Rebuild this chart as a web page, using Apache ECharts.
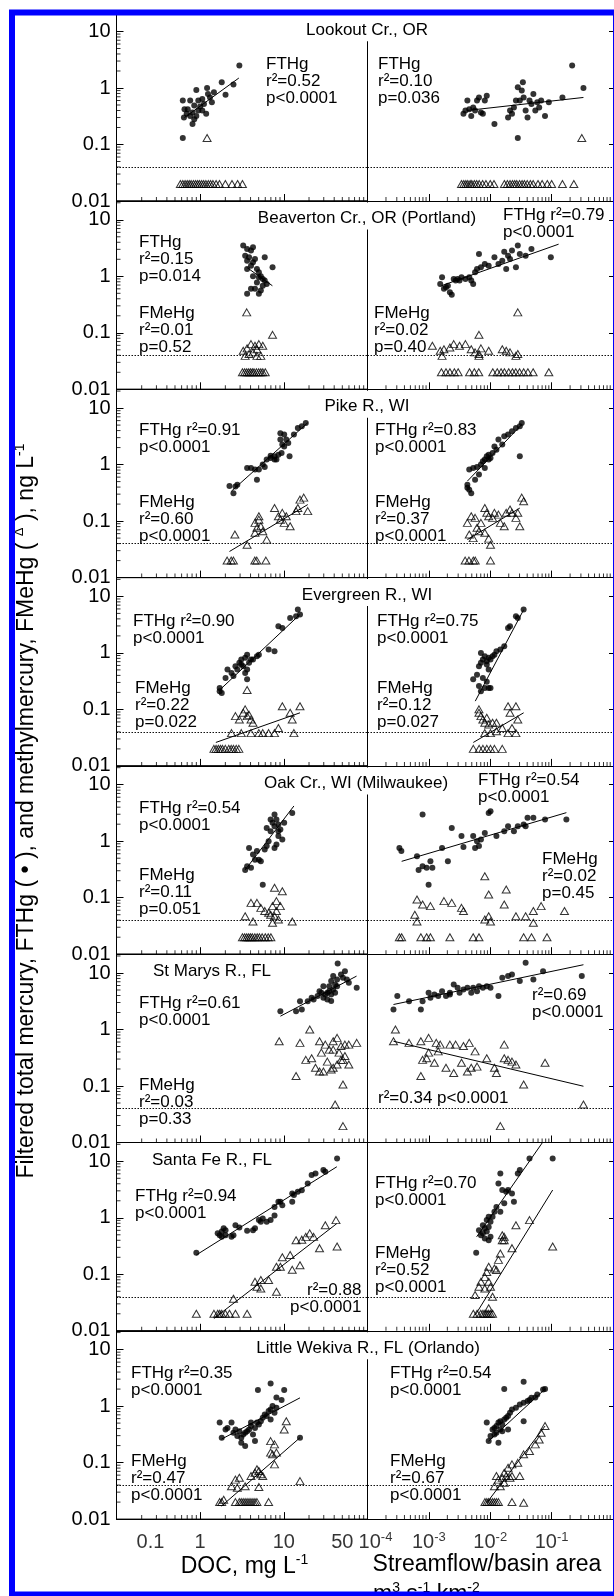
<!DOCTYPE html>
<html><head><meta charset="utf-8">
<script src="https://cdn.jsdelivr.net/npm/echarts@6/dist/echarts.min.js"></script>
<style>html,body{margin:0;padding:0;background:#fff}#chart{width:614px;height:1596px}</style>
</head><body><div id="chart"></div>
<script>
const FONT = '"Liberation Sans", Arial, Helvetica, sans-serif';

// ---- axis ranges & tick labels ----
const X_LEFT_MIN = 0.1, X_LEFT_MAX = 100, X_RIGHT_MIN = 1e-4, X_RIGHT_MAX = 1;
const Y_MIN = 0.01, Y_MAX = 21.5;
const DETECTION_LIMIT = 0.04;     // dotted line
const NON_DETECT_VALUE = 0.02;    // plotted value of non-detect FMeHg
const yTickLabels = ['0.01', '0.1', '1', '10'];
const xLeftTickValues = [0.1, 1, 10, 50];
const xLeftTickLabels = ['{b|0.1}', '{b|1}', '{b|10}', '{b|50}'];
const xRightTickValues = [1e-4, 1e-3, 1e-2, 1e-1];
const xRightTickLabels = ['{b|10}{s|-4}', '{b|10}{s|-3}', '{b|10}{s|-2}', '{b|10}{s|-1}'];
const xLeftMinor = [0.2,0.3,0.4,0.5,0.6,0.7,0.8,0.9,2,3,4,5,6,7,8,9,20,30,40,50,60,70,80,90];
const xRightMinor = [2e-4,3e-4,4e-4,5e-4,6e-4,7e-4,8e-4,9e-4,0.002,0.003,0.004,0.005,0.006,0.007,0.008,0.009,0.02,0.03,0.04,0.05,0.06,0.07,0.08,0.09,0.2,0.3,0.4,0.5,0.6,0.7,0.8,0.9];
const yMinor = [0.02,0.03,0.04,0.05,0.06,0.07,0.08,0.09,0.2,0.3,0.4,0.5,0.6,0.7,0.8,0.9,2,3,4,5,6,7,8,9,20];

const siteNames = ['Lookout Cr., OR', 'Beaverton Cr., OR (Portland)', 'Pike R., WI', 'Evergreen R., WI',
  'Oak Cr., WI (Milwaukee)', 'St Marys R., FL', 'Santa Fe R., FL', 'Little Wekiva R., FL (Orlando)'];

// ---- data: [x, value] ; ND arrays hold x of non-detects ----
const lookoutDocHg = [[0.62,0.13],[0.62,0.60],[0.64,0.30],[0.71,0.42],[0.76,0.60],[0.81,0.37],[0.85,0.28],[0.81,0.23],[0.90,0.92],[0.95,0.40],[1.0,0.47],[1.06,0.64],[1.11,0.52],[1.18,0.35],[1.21,1.0],[1.31,0.68],[1.38,0.56],[1.46,0.84],[0.90,0.32],[1.06,0.40],[0.69,0.35],[1.81,1.26],[2.01,0.76],[2.50,1.15],[2.94,2.5],[1.24,0.78],[0.85,0.49],[0.65,0.42],[0.76,0.32],[0.95,0.60]];
const lookoutDocMeHg = [[1.21,0.13]];
const lookoutDocND = [0.58,0.62,0.66,0.70,0.74,0.78,0.83,0.88,0.93,0.98,1.04,1.1,1.17,1.25,1.33,1.42,1.55,1.7,2.0,2.4,2.8,3.2];
const lookoutDocHgFit = [[0.65,0.30],[2.9,1.5]];
const lookoutFlowHg = [[0.00366,0.35],[0.00394,0.40],[0.00424,0.60],[0.00455,0.42],[0.0049,0.32],[0.00527,0.45],[0.00566,0.40],[0.00609,0.60],[0.00655,0.68],[0.00705,0.37],[0.00758,0.35],[0.00815,0.60],[0.00877,0.73],[0.0117,0.23],[0.0195,0.30],[0.021,0.40],[0.0226,0.35],[0.0243,0.45],[0.0262,0.60],[0.0281,0.13],[0.0303,0.60],[0.0326,0.90],[0.034,1.26],[0.035,0.68],[0.0377,0.40],[0.0405,0.30],[0.0436,0.60],[0.0469,0.52],[0.0504,0.78],[0.0542,0.40],[0.0583,0.56],[0.0627,0.45],[0.0675,0.60],[0.078,0.32],[0.09,0.56],[0.15,0.68],[0.216,2.5],[0.33,1.0],[0.0281,1.03]];
const lookoutFlowMeHg = [[0.31,0.13]];
const lookoutFlowND = [0.0034,0.0037,0.004,0.0043,0.0047,0.005,0.0055,0.006,0.0066,0.0075,0.0085,0.01,0.0115,0.017,0.019,0.021,0.023,0.025,0.027,0.03,0.033,0.036,0.04,0.045,0.05,0.06,0.07,0.085,0.1,0.15,0.23];
const lookoutFlowHgFit = [[0.0042,0.40],[0.33,0.68]];

const beavertonDocHg = [[3.27,3.5],[3.64,3.05],[4.05,2.85],[4.28,3.26],[3.45,2.32],[3.84,2.17],[3.64,1.89],[4.52,2.03],[5.91,2.17],[4.05,1.54],[4.77,1.35],[3.64,1.35],[5.31,1.0],[4.28,1.0],[5.03,1.18],[5.6,0.9],[7.33,1.44],[4.77,0.78],[5.6,0.68],[4.05,0.60],[3.64,0.49],[5.03,0.49],[5.31,0.56],[4.52,0.60],[5.91,0.84],[6.24,0.73],[5.03,0.96],[4.28,1.77]];
const beavertonDocMeHg = [[3.6,0.23],[7.33,0.092],[3.27,0.048],[3.64,0.053],[4.05,0.063],[4.52,0.059],[5.03,0.063],[5.6,0.059],[4.28,0.045],[4.77,0.039],[5.31,0.039],[3.45,0.039],[3.84,0.042],[4.77,0.051]];
const beavertonDocND = [3.2,3.4,3.6,3.8,4.0,4.2,4.4,4.7,5.0,5.3,5.6,6.0];
const beavertonDocHgFit = [[3.6,1.44],[7.3,0.68]];
const beavertonFlowHg = [[0.00153,0.73],[0.00164,0.96],[0.0019,0.64],[0.0022,0.52],[0.00236,0.47],[0.00254,0.9],[0.00273,0.84],[0.00294,0.9],[0.00316,0.84],[0.0034,0.96],[0.00394,0.9],[0.00455,0.96],[0.0049,0.84],[0.00527,0.73],[0.00566,1.18],[0.00609,1.35],[0.00655,2.49],[0.00705,1.44],[0.00815,1.65],[0.00943,1.54],[0.0117,2.17],[0.0136,1.65],[0.0157,1.89],[0.0169,2.73],[0.0182,1.35],[0.0195,2.32],[0.021,2.03],[0.0226,2.85],[0.0262,1.44],[0.0281,3.5],[0.0303,2.49],[0.0377,2.32],[0.0469,3.05],[0.0971,2.17],[0.00176,0.6],[0.00204,0.68]];
const beavertonFlowMeHg = [[0.0281,0.23],[0.00655,0.092],[0.00114,0.059],[0.00153,0.048],[0.00176,0.051],[0.0022,0.055],[0.00254,0.063],[0.00316,0.059],[0.00394,0.063],[0.0049,0.051],[0.00566,0.045],[0.00655,0.042],[0.00705,0.053],[0.00943,0.048],[0.0157,0.051],[0.0182,0.048],[0.021,0.045],[0.0262,0.039],[0.0281,0.042],[0.00164,0.039],[0.00655,0.039]];
const beavertonFlowND = [0.0016,0.0019,0.0022,0.0026,0.003,0.0046,0.0055,0.0065,0.011,0.013,0.015,0.017,0.02,0.023,0.026,0.03,0.035,0.041,0.05,0.09];
const beavertonFlowHgFit = [[0.0016,0.68],[0.13,3.7]];

const pikeDocHg = [[2.24,0.42],[2.5,0.31],[2.64,0.41],[2.78,0.44],[3.64,0.87],[4.52,0.82],[4.77,0.54],[5.03,0.82],[5.6,1.0],[5.91,0.91],[6.24,1.23],[6.95,1.31],[7.74,1.40],[8.16,1.23],[8.61,1.5],[9.4,1.61],[9.59,2.26],[9.09,3.6],[10.1,3.4],[10.7,2.77],[11.3,2.42],[11.7,1.40],[13.2,3.4],[14.7,4.45],[16.4,4.77],[18.3,5.47],[9.09,2.77],[10.1,2.1],[7.74,1.23],[6.95,1.44],[4.05,0.87]];
const pikeDocMeHg = [[2.6,0.058],[3.64,0.038],[5.03,0.106],[4.77,0.076],[5.31,0.081],[4.52,0.062],[5.6,0.066],[6.24,0.047],[7.74,0.17],[9.09,0.106],[9.59,0.14],[10.1,0.093],[10.7,0.122],[11.9,0.081],[14.0,0.15],[15.6,0.24],[17.3,0.26],[19.3,0.15],[14.7,0.17],[4.52,0.093],[5.03,0.122],[8.61,0.122]];
const pikeDocND = [2.1,2.35,2.5,4.5,4.75,6.1];
const pikeDocHgFit = [[2.37,0.34],[19.3,5.5]];
const pikeDocMeHgFit = [[2.24,0.029],[19.3,0.196]];
const pikeFlowHg = [[0.00424,0.44],[0.00455,0.36],[0.0049,0.31],[0.00455,0.82],[0.00527,0.87],[0.00609,0.91],[0.00705,1.0],[0.00758,1.15],[0.00815,1.23],[0.00877,1.40],[0.00943,1.5],[0.0101,1.31],[0.0109,1.61],[0.0126,1.84],[0.0136,2.77],[0.0169,3.17],[0.0195,3.4],[0.0226,3.9],[0.0262,4.45],[0.0303,4.77],[0.0326,5.47],[0.0303,1.40],[0.00566,0.54],[0.00655,0.67],[0.00815,0.87],[0.00943,1.23],[0.0117,2.1],[0.0157,2.26],[0.00424,0.39]];
const pikeFlowMeHg = [[0.00424,0.093],[0.0049,0.122],[0.00566,0.114],[0.00609,0.076],[0.00655,0.066],[0.00705,0.093],[0.00815,0.17],[0.00877,0.14],[0.00943,0.122],[0.0109,0.114],[0.0117,0.14],[0.0136,0.13],[0.0146,0.093],[0.0169,0.081],[0.0182,0.14],[0.021,0.16],[0.0226,0.14],[0.0262,0.114],[0.0281,0.14],[0.0303,0.081],[0.0326,0.26],[0.035,0.225],[0.00815,0.062],[0.00943,0.049],[0.0101,0.038],[0.00455,0.058],[0.00527,0.05]];
const pikeFlowND = [0.0039,0.0045,0.0053,0.0057,0.0101];
const pikeFlowHgFit = [[0.00424,0.51],[0.0326,5.1]];
const pikeFlowMeHgFit = [[0.00424,0.047],[0.0303,0.17]];

const evergreenDocHg = [[1.71,0.21],[1.81,0.196],[1.71,0.24],[2.01,0.36],[2.12,0.51],[2.37,0.44],[2.5,0.39],[2.64,0.58],[2.78,0.51],[2.94,0.67],[3.1,0.76],[3.27,0.58],[3.45,0.44],[3.64,0.51],[3.84,0.67],[4.05,0.76],[3.64,0.93],[3.45,0.82],[4.28,0.76],[4.77,0.87],[5.03,0.93],[6.58,1.15],[7.74,1.07],[8.61,2.97],[9.59,2.77],[11.9,4.16],[14.0,4.45],[14.7,5.85],[15.6,4.77],[3.64,0.34],[3.1,0.62]];
const evergreenDocMeHg = [[3.64,0.22],[3.27,0.087],[3.45,0.1],[3.64,0.076],[4.05,0.066],[2.94,0.066],[2.64,0.076],[4.28,0.058],[2.37,0.038],[3.1,0.038],[4.05,0.038],[5.03,0.038],[5.6,0.038],[6.58,0.038],[7.74,0.038],[8.61,0.047],[9.59,0.114],[11.9,0.087],[12.6,0.066],[13.2,0.038],[15.6,0.114],[3.84,0.08]];
const evergreenDocND = [1.46,1.55,1.65,1.75,1.85,2.0,2.2,2.35,2.5,2.7,2.9];
const evergreenDocHgFit = [[1.71,0.22],[15.6,4.8]];
const evergreenDocMeHgFit = [[1.54,0.026],[15.6,0.087]];
const evergreenFlowHg = [[0.00527,0.34],[0.00609,0.41],[0.00655,0.26],[0.00705,0.21],[0.00758,0.36],[0.00815,0.24],[0.00877,0.31],[0.00943,0.24],[0.0101,0.24],[0.00705,0.67],[0.00655,0.58],[0.00758,0.76],[0.00815,0.87],[0.00877,0.71],[0.00943,0.82],[0.0101,0.76],[0.0109,0.87],[0.0117,0.93],[0.0126,1.07],[0.0146,1.15],[0.0169,1.31],[0.0195,2.77],[0.021,2.97],[0.0262,4.45],[0.0281,4.16],[0.035,5.85],[0.00705,1.0],[0.00877,0.62],[0.00943,0.51]];
const evergreenFlowMeHg = [[0.00655,0.1],[0.00705,0.076],[0.00758,0.066],[0.00815,0.058],[0.00877,0.071],[0.00943,0.054],[0.0109,0.058],[0.0126,0.058],[0.0195,0.114],[0.021,0.087],[0.0262,0.114],[0.0281,0.066],[0.0101,0.038],[0.0126,0.041],[0.0157,0.047],[0.0195,0.038],[0.0226,0.047],[0.0262,0.038],[0.00815,0.038],[0.00655,0.087]];
const evergreenFlowND = [0.0053,0.0066,0.0076,0.0088,0.0101,0.0117,0.0157];
const evergreenFlowHgFit = [[0.0057,0.14],[0.035,5.8]];
const evergreenFlowMeHgFit = [[0.0053,0.026],[0.035,0.087]];

const oakDocHg = [[3.45,0.31],[3.64,0.36],[3.84,0.76],[4.28,0.58],[4.52,0.47],[4.77,0.67],[5.03,0.47],[5.31,0.44],[5.6,0.17],[5.91,0.71],[6.24,0.82],[6.58,1.0],[6.95,1.5],[7.33,2.11],[7.74,2.97],[8.16,2.42],[8.61,1.97],[9.09,1.61],[7.74,0.76],[8.16,0.87],[8.61,1.23],[9.59,1.07],[10.1,2.11],[12.6,3.17],[6.24,1.72],[6.95,2.42],[7.74,1.84],[8.61,1.5],[4.05,0.34]];
const oakDocMeHg = [[7.74,0.15],[9.59,0.13],[4.05,0.081],[4.77,0.081],[5.31,0.066],[5.91,0.058],[6.58,0.054],[7.33,0.071],[8.16,0.087],[9.09,0.071],[6.95,0.05],[7.74,0.047],[8.61,0.041],[3.45,0.047],[4.28,0.038],[7.33,0.036],[12.6,0.038],[8.16,0.058]];
const oakDocND = [3.2,3.4,3.6,3.8,4.0,4.2,4.5,4.8,5.1,5.5,6.0,6.5,7.0];
const oakDocHgFit = [[3.45,0.31],[13.2,4.2]];
const oakFlowHg = [[0.000331,0.76],[0.000356,0.67],[0.00064,0.54],[0.00068,0.31],[0.00079,0.36],[0.00092,0.34],[0.00099,0.17],[0.00106,0.44],[0.00114,0.34],[0.00079,2.97],[0.00164,0.76],[0.00204,0.44],[0.00236,1.72],[0.0034,1.23],[0.00366,0.79],[0.00527,1.23],[0.00566,0.76],[0.00609,1.0],[0.00655,0.82],[0.00705,1.07],[0.00815,1.4],[0.00943,3.17],[0.0101,3.4],[0.0126,1.23],[0.0169,1.5],[0.0195,1.84],[0.0243,1.5],[0.0281,1.84],[0.035,1.97],[0.0377,1.84],[0.0405,2.59],[0.0504,2.59],[0.0781,2.42],[0.174,2.42]];
const oakFlowMeHg = [[0.00064,0.093],[0.00079,0.076],[0.00106,0.071],[0.00176,0.087],[0.00236,0.081],[0.0034,0.066],[0.00366,0.058],[0.00815,0.24],[0.00943,0.114],[0.0182,0.14],[0.0169,0.076],[0.0262,0.047],[0.0377,0.047],[0.0504,0.058],[0.0675,0.071],[0.162,0.058],[0.00059,0.05],[0.00064,0.038],[0.00943,0.047],[0.0101,0.038],[0.00815,0.041],[0.0504,0.036]];
const oakFlowND = [0.00033,0.00036,0.00074,0.00092,0.00106,0.0022,0.00527,0.00655,0.035,0.047,0.084];
const oakFlowHgFit = [[0.00036,0.44],[0.174,3.2]];

const stmarysDocHg = [[9.09,2.11],[14.0,2.11],[15.6,3.17],[16.4,2.26],[19.3,3.17],[21.5,3.64],[22.7,3.4],[25.3,3.9],[28.1,4.45],[29.7,3.64],[31.3,4.16],[33.1,4.45],[34.9,5.85],[36.8,7.2],[38.9,5.1],[41.0,6.25],[43.3,7.7],[44,14.7],[48.2,9.4],[50.9,8.2],[53.7,10.7],[56.7,7.7],[59.8,6.7],[74.3,5.5],[36.8,4.16],[33.1,3.4],[29.7,5.85],[26.7,4.77],[41,4.45],[43.3,5.85],[34.9,4.77],[38.9,8.8],[36.8,3.2]];
const stmarysDocMeHg = [[8.8,0.62],[15.6,0.58],[20.4,1.0],[26.7,0.62],[31.3,0.54],[34.9,0.44],[38.9,0.62],[43.3,0.71],[48.2,0.51],[53.7,0.54],[59.8,0.54],[74.3,0.58],[14.0,0.15],[18.3,0.29],[21.5,0.31],[23.9,0.21],[26.7,0.18],[29.7,0.18],[36.8,0.196],[38.9,0.21],[43.3,0.24],[48.2,0.29],[53.7,0.34],[59.8,0.24],[50.9,0.106],[41.0,0.047],[50.9,0.0195],[28.1,0.39],[33.1,0.27],[38.9,0.44],[45.7,0.39],[50.9,0.29]];
const stmarysDocND = [];
const stmarysDocHgFit = [[9.1,1.72],[74,8.8]];
const stmarysFlowHg = [[0.000265,2.26],[0.000306,3.9],[0.000475,3.17],[0.00074,2.26],[0.00079,3.17],[0.00099,4.45],[0.00106,3.64],[0.00123,4.16],[0.00142,3.9],[0.00164,4.77],[0.0019,3.9],[0.0022,4.45],[0.00254,6.25],[0.00316,4.45],[0.00366,5.1],[0.00424,5.5],[0.00527,5.5],[0.00655,5.85],[0.00758,5.5],[0.00877,5.85],[0.0101,5.5],[0.0136,3.9],[0.0157,8.2],[0.0195,8.8],[0.0226,9.4],[0.0303,7.2],[0.0377,15.1],[0.0504,7.7],[0.0726,10.7],[0.31,8.8],[0.0022,4.16],[0.00294,5.5],[0.0049,4.45],[0.00609,4.77]];
const stmarysFlowMeHg = [[0.000285,1.0],[0.000265,0.62],[0.000475,0.58],[0.00074,0.62],[0.00099,0.71],[0.00132,0.58],[0.00153,0.54],[0.0022,0.54],[0.00273,0.54],[0.00366,0.51],[0.00455,0.58],[0.00566,0.41],[0.00079,0.29],[0.00092,0.31],[0.00099,0.39],[0.00142,0.41],[0.00123,0.257],[0.0019,0.21],[0.00254,0.17],[0.0034,0.257],[0.00424,0.18],[0.0049,0.21],[0.00609,0.22],[0.00877,0.31],[0.0117,0.21],[0.0126,0.17],[0.0169,0.54],[0.0169,0.31],[0.0195,0.29],[0.0226,0.27],[0.0262,0.24],[0.00074,0.15],[0.035,0.106],[0.0781,0.257],[0.33,0.047],[0.0146,0.0195]];
const stmarysFlowND = [];
const stmarysFlowHgFit = [[0.000265,2.77],[0.33,14]];
const stmarysFlowMeHgFit = [[0.000265,0.62],[0.33,0.099]];

const santafeDocHg = [[0.9,0.24],[1.62,0.53],[1.71,0.49],[1.81,0.57],[1.91,0.65],[2.01,0.6],[1.81,0.46],[2.37,0.46],[2.5,0.49],[2.64,0.74],[3.64,0.59],[4.28,0.6],[4.52,0.65],[5.03,0.91],[5.31,0.85],[5.6,0.97],[6.24,0.85],[7.74,1.1],[7.74,1.56],[8.61,1.92],[9.09,1.92],[12.6,1.92],[12.6,2.7],[13.2,2.52],[14.7,2.88],[16.4,3.08],[19.3,4.05],[21.5,5.7],[23.9,6.1],[29.7,7.0],[31.3,6.5],[43.3,11.2],[2.01,0.49],[2.94,0.67],[6.95,0.91],[9.59,1.67]];
const santafeDocMeHg = [[42,0.91],[43.3,0.31],[31.3,0.74],[26.7,0.29],[22.7,0.46],[20.4,0.53],[18.3,0.46],[16.4,0.41],[14.0,0.4],[11.9,0.22],[9.59,0.2],[12.6,0.12],[15.6,0.145],[9.09,0.136],[8.16,0.136],[6.58,0.079],[5.31,0.079],[4.77,0.06],[4.52,0.074],[5.31,0.056],[8.16,0.049],[2.5,0.037]];
const santafeDocND = [0.9,1.46,1.62,1.71,1.81,2.0,2.24,2.64,3.64];
const santafeDocHgFit = [[0.9,0.22],[43,8.0]];
const santafeDocMeHgFit = [[1.46,0.0165],[43,0.79]];
const santafeFlowHg = [[0.0059,0.24],[0.00655,0.6],[0.00705,0.49],[0.00758,0.53],[0.00815,0.65],[0.00877,0.57],[0.00943,0.69],[0.0101,0.85],[0.0109,1.04],[0.0117,1.28],[0.0126,1.56],[0.0146,1.28],[0.0157,3.1],[0.0169,1.8],[0.0182,2.88],[0.0195,3.1],[0.0226,2.7],[0.0243,1.92],[0.0281,6.1],[0.0303,7.0],[0.0436,11.2],[0.104,11.2],[0.00815,0.43],[0.00943,0.4],[0.0101,0.46],[0.00758,0.74],[0.00877,0.91],[0.00943,1.04],[0.0146,6.1],[0.0136,4.05]];
const santafeFlowMeHg = [[0.00566,0.043],[0.00655,0.06],[0.00705,0.074],[0.00815,0.09],[0.00877,0.11],[0.00943,0.136],[0.0101,0.06],[0.0109,0.04],[0.0117,0.127],[0.0126,0.119],[0.0136,0.18],[0.0146,0.234],[0.0157,0.4],[0.0169,0.46],[0.0226,0.29],[0.0262,0.74],[0.0436,0.91],[0.104,0.31],[0.00943,0.074],[0.00815,0.056],[0.00943,0.025],[0.0157,0.49],[0.0169,0.4]];
const santafeFlowND = [0.0053,0.0061,0.007,0.0076,0.0082,0.0088,0.0094,0.0101,0.0109];
const santafeFlowHgFit = [[0.006,0.46],[0.071,21.5]];
const santafeFlowMeHgFit = [[0.0057,0.019],[0.104,3.1]];

const wekivaDocHg = [[6.95,2.52],[4.9,1.92],[10.1,1.92],[8.16,1.42],[9.4,1.28],[1.71,0.51],[1.81,0.276],[2.12,0.41],[2.37,0.51],[2.5,0.337],[2.64,0.386],[2.78,0.295],[2.94,0.36],[3.1,0.276],[3.27,0.315],[3.45,0.337],[3.64,0.36],[3.84,0.386],[4.05,0.443],[4.28,0.315],[4.52,0.41],[4.77,0.51],[5.03,0.47],[5.31,0.54],[5.6,0.62],[5.91,0.71],[6.24,0.665],[6.58,0.82],[6.95,0.87],[7.33,1.0],[7.74,0.76],[8.16,0.93],[3.45,0.196],[3.1,0.224],[6.95,0.58],[4.05,0.51],[4.52,0.24],[15.6,0.276],[2.01,0.386]];
const wekivaDocMeHg = [[10.7,0.54],[10.1,0.386],[6.95,0.24],[7.74,0.21],[8.16,0.15],[6.95,0.15],[7.33,0.14],[7.74,0.093],[5.03,0.071],[4.52,0.066],[5.31,0.062],[5.6,0.058],[4.77,0.076],[4.05,0.058],[2.94,0.054],[2.64,0.05],[2.37,0.038],[2.78,0.036],[3.45,0.038],[5.03,0.037],[15.6,0.047],[1.91,0.022]];
const wekivaDocND = [1.71,1.81,2.64,2.94,3.1,3.27,3.45,3.64,3.84,4.05,4.28,4.52,4.77,6.58];
const wekivaDocHgFit = [[1.8,0.26],[15.6,1.4]];
const wekivaDocMeHgFit = [[1.8,0.017],[15.6,0.276]];
const wekivaFlowHg = [[0.0169,2.0],[0.035,2.7],[0.0781,2.0],[0.0542,1.42],[0.0436,1.28],[0.00877,0.51],[0.00943,0.24],[0.0101,0.295],[0.0109,0.386],[0.0117,0.41],[0.0126,0.443],[0.0136,0.51],[0.0146,0.386],[0.0157,0.47],[0.0169,0.58],[0.0182,0.62],[0.0195,0.665],[0.021,0.76],[0.0226,0.87],[0.0262,0.93],[0.0303,1.07],[0.035,1.15],[0.0405,1.23],[0.0469,1.4],[0.0583,1.6],[0.0726,1.97],[0.0117,0.315],[0.0136,0.224],[0.0195,0.386],[0.0146,0.54],[0.0126,0.337],[0.0157,0.36],[0.035,0.54]];
const wekivaFlowMeHg = [[0.0781,0.443],[0.0675,0.337],[0.0627,0.257],[0.0542,0.21],[0.0436,0.16],[0.035,0.14],[0.0281,0.099],[0.0226,0.093],[0.0195,0.081],[0.0182,0.058],[0.0169,0.066],[0.0157,0.054],[0.0136,0.05],[0.0126,0.058],[0.0146,0.038],[0.0117,0.038],[0.021,0.054],[0.0226,0.058],[0.0169,0.044],[0.0303,0.058],[0.035,0.0195]];
const wekivaFlowND = [0.0082,0.0088,0.0094,0.0101,0.0109,0.0117,0.0126,0.0136,0.0226];
const wekivaFlowHgFit = [[0.0094,0.24],[0.078,2.0]];
const wekivaFlowMeHgFit = [[0.0088,0.0195],[0.078,0.443]];

// ---- panel assembly ----
const panels = [
  {row:0, side:0, hg:lookoutDocHg, mehg:lookoutDocMeHg, nd:lookoutDocND, fits:[lookoutDocHgFit]},
  {row:0, side:1, hg:lookoutFlowHg, mehg:lookoutFlowMeHg, nd:lookoutFlowND, fits:[lookoutFlowHgFit]},
  {row:1, side:0, hg:beavertonDocHg, mehg:beavertonDocMeHg, nd:beavertonDocND, fits:[beavertonDocHgFit]},
  {row:1, side:1, hg:beavertonFlowHg, mehg:beavertonFlowMeHg, nd:beavertonFlowND, fits:[beavertonFlowHgFit]},
  {row:2, side:0, hg:pikeDocHg, mehg:pikeDocMeHg, nd:pikeDocND, fits:[pikeDocHgFit, pikeDocMeHgFit]},
  {row:2, side:1, hg:pikeFlowHg, mehg:pikeFlowMeHg, nd:pikeFlowND, fits:[pikeFlowHgFit, pikeFlowMeHgFit]},
  {row:3, side:0, hg:evergreenDocHg, mehg:evergreenDocMeHg, nd:evergreenDocND, fits:[evergreenDocHgFit, evergreenDocMeHgFit]},
  {row:3, side:1, hg:evergreenFlowHg, mehg:evergreenFlowMeHg, nd:evergreenFlowND, fits:[evergreenFlowHgFit, evergreenFlowMeHgFit]},
  {row:4, side:0, hg:oakDocHg, mehg:oakDocMeHg, nd:oakDocND, fits:[oakDocHgFit]},
  {row:4, side:1, hg:oakFlowHg, mehg:oakFlowMeHg, nd:oakFlowND, fits:[oakFlowHgFit]},
  {row:5, side:0, hg:stmarysDocHg, mehg:stmarysDocMeHg, nd:stmarysDocND, fits:[stmarysDocHgFit]},
  {row:5, side:1, hg:stmarysFlowHg, mehg:stmarysFlowMeHg, nd:stmarysFlowND, fits:[stmarysFlowHgFit, stmarysFlowMeHgFit]},
  {row:6, side:0, hg:santafeDocHg, mehg:santafeDocMeHg, nd:santafeDocND, fits:[santafeDocHgFit, santafeDocMeHgFit]},
  {row:6, side:1, hg:santafeFlowHg, mehg:santafeFlowMeHg, nd:santafeFlowND, fits:[santafeFlowHgFit, santafeFlowMeHgFit]},
  {row:7, side:0, hg:wekivaDocHg, mehg:wekivaDocMeHg, nd:wekivaDocND, fits:[wekivaDocHgFit, wekivaDocMeHgFit]},
  {row:7, side:1, hg:wekivaFlowHg, mehg:wekivaFlowMeHg, nd:wekivaFlowND, fits:[wekivaFlowHgFit, wekivaFlowMeHgFit]}
];

// annotation texts: [row, x, y offset of first line centre from row top, text]
const annotations = [
  [0,266,52,'FTHg\nr²=0.52\np<0.0001'], [0,378,52,'FTHg\nr²=0.10\np=0.036'],
  [1,139,41,'FTHg\nr²=0.15\np=0.014'], [1,139,112,'FMeHg\nr²=0.01\np=0.52'],
  [1,503,14,'FTHg r²=0.79\np<0.0001'], [1,374,112,'FMeHg\nr²=0.02\np=0.40'],
  [2,139,41,'FTHg r²=0.91\np<0.0001'], [2,139,113,'FMeHg\nr²=0.60\np<0.0001'],
  [2,375,41,'FTHg r²=0.83\np<0.0001'], [2,375,113,'FMeHg\nr²=0.37\np<0.0001'],
  [3,133,44,'FTHg r²=0.90\np<0.0001'], [3,135,111,'FMeHg\nr²=0.22\np=0.022'],
  [3,377,44,'FTHg r²=0.75\np<0.0001'], [3,377,111,'FMeHg\nr²=0.12\np=0.027'],
  [4,139,42,'FTHg r²=0.54\np<0.0001'], [4,139,109,'FMeHg\nr²=0.11\np=0.051'],
  [4,478,14,'FTHg r²=0.54\np<0.0001'], [4,542,93,'FMeHg\nr²=0.02\np=0.45'],
  [5,139,49,'FTHg r²=0.61\np<0.0001'], [5,139,131,'FMeHg\nr²=0.03\np=0.33'],
  [5,532,41,'r²=0.69\np<0.0001'], [5,378,144,'r²=0.34 p<0.0001'],
  [6,135,54,'FTHg r²=0.94\np<0.0001'], [6,307,147.5,'r²=0.88'], [6,290,164.5,'p<0.0001'],
  [6,375,41,'FTHg r²=0.70\np<0.0001'], [6,375,111,'FMeHg\nr²=0.52\np<0.0001'],
  [7,131,42.5,'FTHg r²=0.35\np<0.0001'], [7,131,131,'FMeHg\nr²=0.47\np<0.0001'],
  [7,390,42.5,'FTHg r²=0.54\np<0.0001'], [7,390,131,'FMeHg\nr²=0.67\np<0.0001']
];
const titleX = [367, 367, 367, 367, 356, 212, 212, 368];

// ---- layout ----
const L = 116.5, M = 367.5, R = 613, ROW_BOTTOM0 = 201, ROW_H = 188.3;
const rowTop = r => ROW_BOTTOM0 + ROW_H * r - ROW_H;

const grids = [], xAxes = [], yAxes = [], series = [];
const richLabel = {
  b: {fontSize: 20, lineHeight: 24, fontFamily: FONT, color: '#000'},
  s: {fontSize: 13, lineHeight: 13, verticalAlign: 'top', fontFamily: FONT, color: '#000'}
};
const isPow10 = v => Math.abs(Math.log10(v) - Math.round(Math.log10(v))) < 1e-6;

panels.forEach((p, i) => {
  const top = rowTop(p.row);
  const xMin = p.side ? X_RIGHT_MIN : X_LEFT_MIN;
  grids.push({left: p.side ? M : L, top: top, width: p.side ? R - M : M - L, height: ROW_H,
    show: p.side === 0, borderColor: '#000', borderWidth: 1, backgroundColor: 'transparent'});
  xAxes.push({type: 'log', logBase: 10, gridIndex: i, min: xMin, max: p.side ? X_RIGHT_MAX : X_LEFT_MAX,
    axisLine: {show: true, onZero: false, lineStyle: {color: '#000', width: 1}},
    axisTick: {show: true, inside: true, length: 7, lineStyle: {color: '#000', width: 1}},
    axisLabel: {show: false}, splitLine: {show: false}});
  yAxes.push({type: 'log', logBase: 10, gridIndex: i, min: Y_MIN, max: Y_MAX, position: p.side ? 'right' : 'left',
    axisLine: {show: p.side === 0, onZero: false, lineStyle: {color: '#000', width: 1}},
    axisTick: {show: true, inside: true, length: p.side ? 4 : 7, lineStyle: {color: '#000', width: 1}},
    axisLabel: {show: p.side === 0, margin: 6, fontSize: 20, color: '#000', fontFamily: FONT,
      formatter: v => isPow10(v) ? (yTickLabels[Math.round(Math.log10(v)) + 2] || '') : ''},
    splitLine: {show: false}});
  const base = {xAxisIndex: i, yAxisIndex: i, silent: true, animation: false};
  series.push(Object.assign({type: 'scatter', data: p.hg, symbol: 'circle', symbolSize: 6,
    itemStyle: {color: '#000'}, z: 5,
    markLine: {silent: true, animation: false, symbol: ['none', 'none'], label: {show: false},
      lineStyle: {color: '#111', width: 1, type: [1.5, 1.5]}, data: [{yAxis: DETECTION_LIMIT}]}}, base));
  series.push(Object.assign({type: 'scatter', data: p.mehg.concat(p.nd.map(x => [x, NON_DETECT_VALUE])),
    symbol: 'triangle', symbolSize: [8, 7],
    itemStyle: {color: 'rgba(255,255,255,0)', borderColor: '#000', borderWidth: 1}, z: 4}, base));
  p.fits.forEach(f => series.push(Object.assign({type: 'line', data: f, symbol: 'none', showSymbol: false,
    lineStyle: {color: '#000', width: 1}, z: 3, clip: true}, base)));
  series.push(Object.assign({type: 'scatter', data: (p.side ? xRightMinor : xLeftMinor).map(v => [v, Y_MIN]),
    symbol: 'rect', symbolSize: [1, 4], symbolOffset: [0, -2], itemStyle: {color: '#000'}, clip: false, z: 2}, base));
  if (p.side === 0) {
    series.push(Object.assign({type: 'scatter', data: yMinor.map(v => [X_LEFT_MIN, v]),
      symbol: 'rect', symbolSize: [4, 1], symbolOffset: [2, 0], itemStyle: {color: '#000'}, clip: false, z: 2}, base));
  }
  if (p.row === 7) {
    const vals = p.side ? xRightTickValues : xLeftTickValues;
    const labs = p.side ? xRightTickLabels : xLeftTickLabels;
    series.push(Object.assign({type: 'scatter', symbol: 'circle', symbolSize: 1, clip: false,
      itemStyle: {color: 'rgba(0,0,0,0)'}, z: 6,
      data: vals.map((v, k) => ({value: [v, Y_MIN], labelText: labs[k],
        label: {offset: [(p.side === 0 && k === 0) ? 34 : (p.side === 1 && k === 0 ? 8 : 0), 0]}})),
      label: {show: true, position: 'bottom', distance: 11, rich: richLabel,
        formatter: prm => prm.data.labelText}}, base));
  }
});

// ---- graphic texts ----
const graphics = [];
siteNames.forEach((name, r) => {
  graphics.push({type: 'text', x: titleX[r], y: rowTop(r) + 1.5, z: 100,
    style: {text: name, fontSize: 17, fontFamily: FONT, fill: '#000', lineHeight: 18,
      align: 'center', textAlign: 'center', verticalAlign: 'top', textVerticalAlign: 'top',
      backgroundColor: '#fff', padding: [7, 4, 2, 4]}});
});
annotations.forEach(a => {
  graphics.push({type: 'text', x: a[1], y: rowTop(a[0]) + a[2] - 8.5, z: 100,
    style: {text: a[3], fontSize: 17, fontFamily: FONT, fill: '#000', lineHeight: 17,
      align: 'left', textAlign: 'left', verticalAlign: 'top', textVerticalAlign: 'top'}});
});
const axisTitleRich = {
  n: {fontSize: 23, lineHeight: 28, fontFamily: FONT, fill: '#000', color: '#000'},
  s: {fontSize: 14, lineHeight: 14, verticalAlign: 'top', fontFamily: FONT, fill: '#000', color: '#000'},
  t: {fontSize: 13, lineHeight: 14, verticalAlign: 'top', fontFamily: FONT, fill: '#000', color: '#000'}
};
graphics.push({type: 'text', x: 244.5, y: 1567, z: 100,
  style: {text: '{n|DOC, mg L}{s|-1}', rich: axisTitleRich, align: 'center', textAlign: 'center',
    verticalAlign: 'middle', textVerticalAlign: 'middle'}});
graphics.push({type: 'text', x: 487, y: 1565, z: 100,
  style: {text: '{n|Streamflow/basin area}', rich: axisTitleRich, align: 'center', textAlign: 'center',
    verticalAlign: 'middle', textVerticalAlign: 'middle'}});
graphics.push({type: 'text', x: 373, y: 1595, z: 100,
  style: {text: '{n|m}{s|3}{n| s}{s|-1}{n| km}{s|-2}', rich: axisTitleRich, align: 'left', textAlign: 'left',
    verticalAlign: 'middle', textVerticalAlign: 'middle'}});
graphics.push({type: 'text', x: 27, y: 811, rotation: Math.PI / 2, z: 100,
  style: {text: '{n|Filtered total mercury, FTHg ( • ), and methylmercury, FMeHg ( }{t|Δ}{n| ), ng L}{s|-1}',
    rich: axisTitleRich, align: 'center', textAlign: 'center', verticalAlign: 'middle', textVerticalAlign: 'middle'}});
// blue frame
graphics.push({type: 'rect', z: 200, shape: {x: 12, y: 12.5, width: 604, height: 1582},
  style: {fill: 'transparent', stroke: '#0000ff', lineWidth: 6}});

const chart = echarts.init(document.getElementById('chart'), null, {renderer: 'canvas'});
chart.setOption({
  backgroundColor: '#fff',
  animation: false,
  grid: grids, xAxis: xAxes, yAxis: yAxes, series: series,
  graphic: {elements: graphics}
});
</script></body></html>
